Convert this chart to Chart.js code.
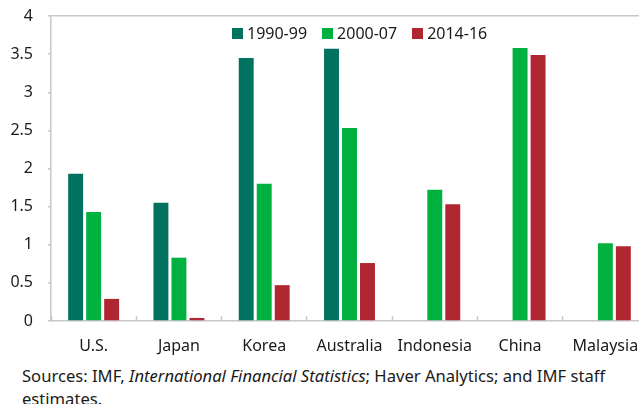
<!DOCTYPE html>
<html>
<head>
<meta charset="utf-8">
<script src="https://cdn.jsdelivr.net/npm/chart.js@4"></script>
<style>
  html, body { margin: 0; padding: 0; background: #fff; overflow: hidden; }
  #wrap { position: relative; width: 639px; height: 404px; overflow: hidden; }
  #chart { position: absolute; left: 0; top: 0; }
  #legend {
    position: absolute; left: 232px; top: 22px; display: flex; align-items: center;
    font: 16px "Noto Sans", sans-serif; color: #1a1a1a; white-space: nowrap;
  }
  #legend .item { display: flex; align-items: center; margin-right: 15px; }
  #legend .box { width: 11px; height: 11px; margin-right: 4px; }
  #note {
    position: absolute; left: 22px; top: 364px; width: 615px;
    font: 16.6px "Noto Sans", sans-serif; line-height: 23px; color: #1a1a1a;
  }
</style>
</head>
<body>
<div id="wrap">
  <canvas id="chart" width="648" height="362"></canvas>
  <div id="legend"></div>
  <div id="note">Sources: IMF, <i>International Financial Statistics</i>; Haver Analytics; and IMF staff estimates.</div>
</div>
<script>
// countries along the x axis
const countries = ['U.S.', 'Japan', 'Korea', 'Australia', 'Indonesia', 'China', 'Malaysia'];

// values (no bar = null)
const period1990 = [1.93, 1.55, 3.45, 3.57, null, null, null];
const period2000 = [1.43, 0.83, 1.80, 2.53, 1.72, 3.58, 1.02];
const period2014 = [0.29, 0.04, 0.47, 0.76, 1.53, 3.49, 0.98];

const yTicks = [0, 0.5, 1, 1.5, 2, 2.5, 3, 3.5, 4];

const FONT = '"Noto Sans", sans-serif';
const AXIS_GREY = '#c8c8c8';

function makeSet(label, data, color) {
  return {
    label: label,
    data: data,
    backgroundColor: color,
    borderWidth: 0,
    categoryPercentage: 0.633,
    barPercentage: 0.83
  };
}

const ctx = document.getElementById('chart');
const chart = new Chart(ctx, {
  type: 'bar',
  data: {
    labels: countries,
    datasets: [
      makeSet('1990-99', period1990, '#00725f'),
      makeSet('2000-07', period2000, '#00b140'),
      makeSet('2014-16', period2014, '#b02732')
    ]
  },
  options: {
    responsive: false,
    animation: false,
    layout: { padding: { top: 16, left: 0, right: 0, bottom: 0 } },
    plugins: {
      tooltip: { enabled: false },
      legend: { display: false }
    },
    scales: {
      x: {
        offset: true,
        afterFit: s => {
          s.height = 41;
          s.paddingLeft = 0;
          s.paddingRight = 0;
        },
        border: { display: true, color: AXIS_GREY, width: 1.5 },
        grid: {
          offset: true,
          drawOnChartArea: false,
          tickLength: -5,
          tickColor: AXIS_GREY,
          tickWidth: 1.5
        },
        ticks: {
          padding: 21,
          color: '#1a1a1a',
          font: { family: FONT, size: 16 },
          maxRotation: 0
        }
      },
      y: {
        min: 0,
        max: 4,
        afterFit: s => {
          s.width = 51;
          s.paddingTop = 0;
          s.paddingBottom = 0;
        },
        afterBuildTicks: s => { s.ticks = yTicks.map(v => ({ value: v })); },
        border: { display: true, color: AXIS_GREY, width: 1.5 },
        grid: {
          drawOnChartArea: true,
          color: c => (c.tick && c.tick.value === 4 ? AXIS_GREY : 'rgba(0,0,0,0)'),
          lineWidth: 1.5,
          tickLength: 3,
          tickColor: AXIS_GREY
        },
        ticks: {
          padding: 15,
          color: '#1a1a1a',
          font: { family: FONT, size: 16 },
          callback: v => String(v)
        }
      }
    }
  }
});

// legend built from the chart's own datasets
const legend = document.getElementById('legend');
chart.data.datasets.forEach(ds => {
  const item = document.createElement('span');
  item.className = 'item';
  const box = document.createElement('span');
  box.className = 'box';
  box.style.background = ds.backgroundColor;
  item.appendChild(box);
  item.appendChild(document.createTextNode(ds.label));
  legend.appendChild(item);
});
</script>
</body>
</html>
